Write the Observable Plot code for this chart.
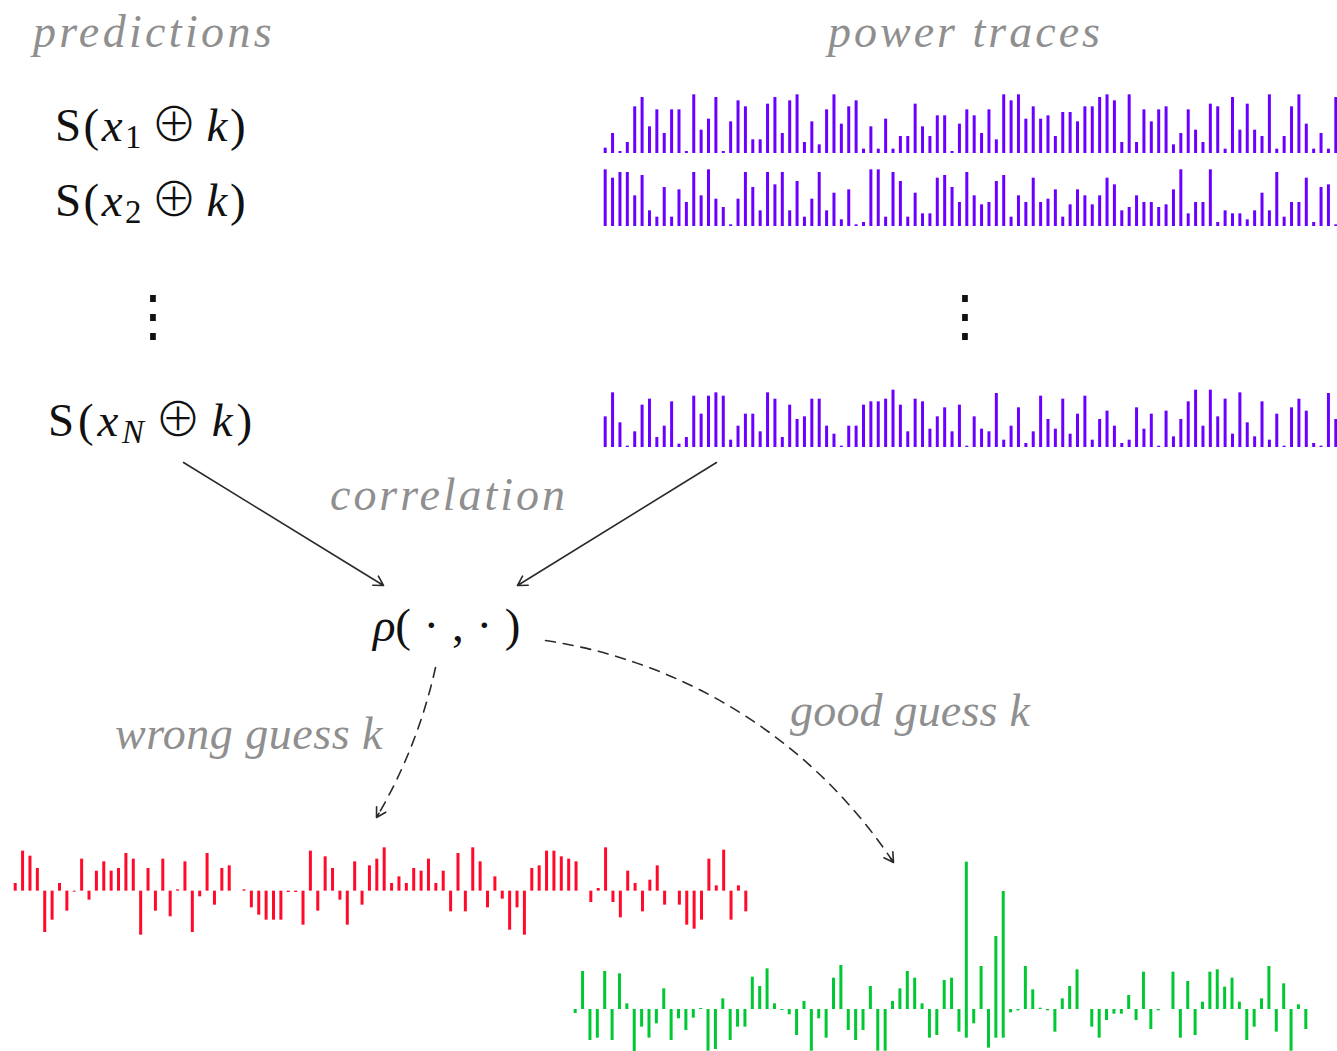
<!DOCTYPE html>
<html><head><meta charset="utf-8">
<script src="https://cdn.jsdelivr.net/npm/d3@7"></script>
<script src="https://cdn.jsdelivr.net/npm/@observablehq/plot@0.6"></script>
<style>
body{margin:0;background:#fff}
#fig{position:relative;width:1337px;height:1051px;overflow:hidden;background:#fff}
.abs{position:absolute;white-space:nowrap;line-height:1}
.lbl{font-family:"Liberation Serif","DejaVu Serif","Noto Serif","Times New Roman",serif;font-style:italic;color:#8f8f8f;letter-spacing:2px}
.math{font-family:"Liberation Serif","DejaVu Serif","Noto Serif","Times New Roman",serif;color:#111}
.math i{font-style:italic}
.math sub{font-size:0.7em;vertical-align:-0.22em;line-height:0}
.math .op{margin:0 0.14em;font-family:"Noto Sans CJK JP","DejaVu Sans",sans-serif;font-weight:300;line-height:0}
.math .dot{margin:0 0.28em}
.dots{font-family:"DejaVu Sans",sans-serif;color:#111;text-align:center;width:60px}
</style></head><body><div id="fig"></div>
<script>
// ---------- data (bar heights) ----------
const powerTrace1 = [16,60,6,33,140,168,80,131,60,131,131,6,176,70,103,168,6,95,158,140,41,41,148,168,60,158,176,33,95,26,131,176,88,140,158,13,80,13,103,13,51,51,148,80,51,113,113,6,88,131,
  113,60,131,41,176,158,176,103,140,103,113,51,123,123,95,140,140,168,176,158,33,176,33,131,95,131,140,26,60,131,70,33,148,140,13,168,70,148,70,51,176,13,51,140,176,88,13,60,13,168];
const powerTrace2 = [170,145,162,162,92,153,47,28,117,28,110,72,162,92,170,82,57,5,82,162,117,47,162,125,162,47,135,28,82,162,47,100,20,110,5,12,170,170,28,162,135,28,100,38,38,145,153,117,72,162,
  92,65,72,135,153,28,92,72,145,72,82,110,28,65,110,92,65,92,145,125,47,57,92,72,72,57,65,110,170,38,72,72,170,12,47,38,38,20,47,100,47,162,28,72,72,145,12,117,125,5];
const powerTraceN = [92,164,74,4,47,127,145,30,64,137,10,30,154,100,154,164,154,22,64,100,100,47,164,145,30,127,84,92,145,145,64,40,4,64,64,127,137,137,145,172,127,47,145,137,55,92,119,47,127,4,
  92,55,47,162,22,64,119,12,47,154,84,55,145,40,100,154,22,84,109,64,12,22,119,55,100,4,109,32,84,137,172,64,172,92,145,40,164,74,32,137,22,100,4,119,145,109,12,4,162,84];
const wrongGuess = [23,120,105,68,-124,-87,23,-60,-3,96,-27,60,88,60,68,113,96,-132,68,-60,96,-77,4,88,-124,-17,113,-42,68,76,0,4,-50,-72,-87,-87,-87,-4,-4,-102,120,-60,103,68,-27,-102,88,-42,76,96,
  130,23,43,23,68,60,96,23,60,-62,113,-62,130,88,-50,43,-24,-117,-50,-132,68,76,120,120,103,96,88,0,-34,8,130,-34,-80,60,23,-62,33,76,-42,0,-42,-102,-114,-87,96,16,123,-87,16,-62];
const goodGuess = [-12,114,-93,-86,114,-93,107,17,-128,-53,-86,-43,62,-93,-28,-63,-26,3,-125,-120,32,-93,-53,-53,97,69,122,17,-3,-16,-78,24,-125,-28,-86,94,132,-63,-93,-63,69,-125,-125,24,62,114,94,17,-86,-78,
  87,94,-68,442,-43,129,-116,219,354,-10,-4,129,59,4,-4,-68,32,69,119,0,-53,-86,-33,-14,-14,42,-33,112,-60,-4,0,112,-86,84,-78,22,112,119,67,94,22,-93,-53,32,129,-68,77,-125,14,-60];
// second bars drawn in the same slot as a good-guess bar (slot number, value)
const goodGuessOverlapSlot = [54,58,59];
const goodGuessOverlapValue = [-86,-86,-86];

// ---------- text ----------
const labels = ["predictions","power traces","correlation","wrong guess k","good guess k"];

// ---------- layout ----------
const fig = document.getElementById("fig");
const UNIT = 1/3;          // pixels per value unit
const TRACE_W = 738;

function addTrace(values, color, left, baseline, lo, hi, extra) {
  const data = values.map((v, i) => ({slot: i + 1, v}));
  const marks = [Plot.ruleX(data, {x: "slot", y1: 0, y2: "v", stroke: color, strokeWidth: 3})];
  if (extra) marks.push(Plot.ruleX(extra, {x: "slot", y1: 0, y2: "v", stroke: color, strokeWidth: 3}));
  const h = (hi - lo) * UNIT;
  const chart = Plot.plot({
    width: TRACE_W, height: h, margin: 0,
    x: {domain: [0.5, values.length + 0.5], axis: null},
    y: {domain: [lo, hi], axis: null},
    style: {background: "transparent", overflow: "visible"},
    marks
  });
  const d = document.createElement("div");
  d.style.position = "absolute";
  d.style.left = left + "px";
  d.style.top = (baseline - hi * UNIT) + "px";
  d.style.width = TRACE_W + "px";
  d.appendChild(chart);
  fig.appendChild(d);
}

const PURPLE = "#6a00ff", RED = "#ff0a2a", GREEN = "#00c832";
addTrace(powerTrace1, PURPLE, 601.3, 152.5, 0, 180);
addTrace(powerTrace2, PURPLE, 601.3, 225.5, 0, 180);
addTrace(powerTraceN, PURPLE, 601.3, 447, 0, 180);
addTrace(wrongGuess, RED, 11, 891, -140, 140);
addTrace(goodGuess, GREEN, 571.3, 1009, -135, 450,
  goodGuessOverlapSlot.map((s, i) => ({slot: s, v: goodGuessOverlapValue[i]})));

// text helpers (baseline placement, line-height 1)
function addText(html, cls, left, baseline, size, targetWidth) {
  const d = document.createElement("div");
  d.className = "abs " + cls;
  d.style.fontSize = size + "px";
  d.style.left = left + "px";
  d.style.top = (baseline - 0.8375 * size) + "px";
  d.innerHTML = html;
  fig.appendChild(d);
  if (targetWidth) {
    const n = d.textContent.length;
    const w = d.getBoundingClientRect().width;
    const cur = parseFloat(getComputedStyle(d).letterSpacing) || 0;
    d.style.letterSpacing = (cur + (targetWidth - w) / n) + "px";
  }
  return d;
}
addText(labels[0], "lbl", 33, 48, 46, 242);
addText(labels[1], "lbl", 828, 48, 46, 275);
addText(labels[2], "lbl", 330, 511, 46, 238);
addText(labels[3].replace(/k$/, "<i>k</i>"), "lbl", 115, 750, 46, 268);
addText(labels[4].replace(/k$/, "<i>k</i>"), "lbl", 790, 727, 46, 240);

addText('S(<i>x</i><sub>1</sub><span class="op">⊕</span><i>k</i>)', "math", 55, 141, 47, 193);
addText('S(<i>x</i><sub>2</sub><span class="op">⊕</span><i>k</i>)', "math", 55, 216, 47, 193);
addText('S(<i>x</i><sub><i>N</i></sub><span class="op">⊕</span><i>k</i>)', "math", 48, 436, 47, 208);
addText('<i>ρ</i>(<span class="dot">·</span>,<span class="dot">·</span>)', "math", 373, 641, 47, 147);

function addDots(cx, top) {
  const d = document.createElement("div");
  d.className = "abs dots";
  d.style.left = (cx - 30) + "px";
  d.style.top = top + "px";
  d.style.fontSize = "56px";
  d.textContent = "⋮";
  fig.appendChild(d);
}
addDots(153, 288);
addDots(965, 288);

// ---------- arrows ----------
const solidArrows = [
  {x1: 183, y1: 462, x2: 383, y2: 585},
  {x1: 716, y1: 462, x2: 517, y2: 585}
];
const dashWrong = {x1: 435, y1: 667, x2: 376, y2: 817};
const dashGood = {x1: 545, y1: 640, x2: 893, y2: 862};
const len = a => Math.hypot(a.x2 - a.x1, a.y2 - a.y1);
const ch = {x1: "x1", y1: "y1", x2: "x2", y2: "y2"};
const ink = {stroke: "#2a2a2a", strokeWidth: 1.6};
const overlay = Plot.plot({
  width: 1337, height: 1051, margin: 0,
  x: {domain: [0, 1337], range: [0, 1337], axis: null},
  y: {domain: [0, 1051], range: [0, 1051], axis: null},
  style: {background: "transparent", overflow: "visible"},
  marks: [
    Plot.arrow(solidArrows, {...ch, ...ink, headLength: 10, headAngle: 60}),
    Plot.arrow([dashWrong], {...ch, ...ink, bend: 9, headLength: 0, strokeDasharray: "10,8"}),
    Plot.arrow([dashWrong], {...ch, ...ink, bend: 9, headLength: 10, headAngle: 60, insetStart: len(dashWrong) - 5}),
    Plot.arrow([dashGood], {...ch, ...ink, bend: 24, headLength: 0, strokeDasharray: "10,8"}),
    Plot.arrow([dashGood], {...ch, ...ink, bend: 24, headLength: 10, headAngle: 60, insetStart: len(dashGood) - 5})
  ]
});
const od = document.createElement("div");
od.style.position = "absolute"; od.style.left = "0px"; od.style.top = "0px"; od.style.width = "1337px";
od.appendChild(overlay);
fig.appendChild(od);
</script></body></html>
